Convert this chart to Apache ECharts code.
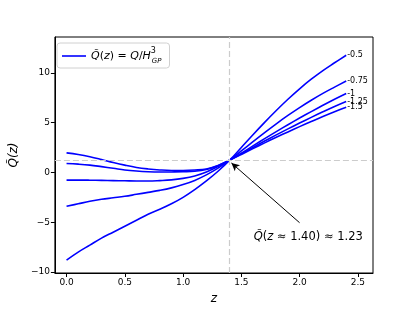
<!DOCTYPE html>
<html>
<head>
<meta charset="utf-8">
<script src="https://cdn.jsdelivr.net/npm/echarts@6/dist/echarts.min.js"></script>
<style>html,body{margin:0;padding:0;background:#fff}#c{width:415px;height:310px}</style>
</head>
<body>
<div id="c"></div>
<script>
// ---- data ----
const zValues = [0,0.1,0.2,0.3,0.4,0.5,0.6,0.7,0.8,0.9,1.0,1.1,1.2,1.3,1.4,1.5,1.6,1.7,1.8,1.9,2.0,2.1,2.2,2.3,2.4];
const seriesLabels = ['-0.5','-0.75','-1','-1.25','-1.5'];
const q_m050 = [-8.8,-8.0,-7.3,-6.6,-6.0,-5.4,-4.8,-4.2,-3.7,-3.15,-2.5,-1.72,-0.85,0.12,1.23,2.51,3.79,5.03,6.22,7.35,8.4,9.36,10.23,11.01,11.77];
const q_m075 = [-3.4,-3.15,-2.9,-2.7,-2.55,-2.4,-2.2,-2.0,-1.8,-1.55,-1.22,-0.8,-0.25,0.43,1.23,2.16,3.09,4.0,4.88,5.72,6.51,7.25,7.94,8.57,9.18];
const q_m100 = [-0.77,-0.77,-0.78,-0.8,-0.82,-0.84,-0.86,-0.86,-0.82,-0.75,-0.6,-0.35,0.05,0.6,1.23,1.93,2.66,3.39,4.1,4.79,5.46,6.11,6.74,7.35,7.93];
const q_m125 = [0.9,0.83,0.73,0.58,0.42,0.25,0.14,0.07,0.04,0.05,0.07,0.12,0.3,0.67,1.23,1.86,2.51,3.15,3.77,4.37,4.96,5.53,6.09,6.63,7.13];
const q_m150 = [1.96,1.8,1.58,1.3,1.0,0.73,0.5,0.35,0.25,0.2,0.2,0.24,0.35,0.7,1.23,1.8,2.39,2.97,3.53,4.07,4.6,5.11,5.62,6.1,6.54];
const allQ = [q_m050,q_m075,q_m100,q_m125,q_m150];
const xTicks = [0,0.5,1.0,1.5,2.0,2.5];
const yTicks = [-10,-5,0,5,10];
const refZ = 1.4, refQ = 1.23;
const arrowFrom = [2.0,-5.05], arrowTo = [1.415,0.95];
const annotPos = [2.074,-6.5];

const FONT = 'DejaVu Sans';
const chart = echarts.init(document.getElementById('c'), null, {renderer:'canvas'});

const lineSeries = allQ.map((arr,k)=>({
  type:'line', name:'Q', data: zValues.map((z,i)=>[z,arr[i]]),
  symbol:'none', smooth:0.4, z:3,
  lineStyle:{color:'#0000ff', width:1.6},
  itemStyle:{color:'#0000ff'},
  endLabel:{show:true, formatter:()=>seriesLabels[k], fontSize:8, color:'#000', fontFamily:FONT, distance:1}
}));

const refSeries = {
  type:'line', name:'ref', data:[], silent:true, z:2,
  markLine:{
    silent:true, symbol:'none', animation:false,
    label:{show:false},
    lineStyle:{color:'#cccccc', type:[6,3], width:1.2},
    data:[{xAxis:refZ},{yAxis:refQ}]
  }
};
const annotSeries = {
  type:'line', name:'annot', data:[], silent:true, z:5,
  markLine:{
    silent:true, animation:false, symbol:['none','arrow'], symbolSize:[6,8],
    label:{show:false},
    lineStyle:{color:'#000', type:'solid', width:1},
    data:[[{coord:arrowFrom},{coord:arrowTo}]]
  },
  markPoint:{
    silent:true, animation:false, symbol:'circle', symbolSize:1,
    itemStyle:{color:'rgba(0,0,0,0)'},
    label:{show:true, position:'inside', color:'#000', fontFamily:FONT, fontSize:11.5,
      formatter:'{i|Q\u0303}{n|(}{i|z}{n| \u2248 1.40) \u2248 1.23}',
      rich:{i:{fontStyle:'italic', fontFamily:FONT, fontSize:11.5, color:'#000'}, n:{fontFamily:FONT, fontSize:11.5, color:'#000'}}},
    data:[{coord:annotPos}]
  }
};

chart.setOption({
  animation:false,
  grid:{left:52, right:42, top:37, bottom:35, show:true, borderColor:'#000', borderWidth:1, backgroundColor:'transparent'},
  legend:{
    show:true, data:[{name:'Q', icon:'rect', itemStyle:{color:'#0000ff'}}], left:57, top:43, orient:'horizontal',
    padding:[4,8,3,5], borderColor:'#d0d0d0', borderWidth:1, borderRadius:3, backgroundColor:'#fff',
    itemWidth:24, itemHeight:1.6, itemGap:6,
    formatter:()=> '{i|Q\u0303}{n|(}{i|z}{n|) = }{i|Q}{n|/}{i|H}{s|3}{b|GP}',
    textStyle:{fontFamily:FONT, fontSize:11, color:'#000', lineHeight:18,
      rich:{
        i:{fontStyle:'italic', fontFamily:FONT, fontSize:11, color:'#000'},
        n:{fontFamily:FONT, fontSize:11, color:'#000'},
        s:{fontFamily:FONT, fontSize:8, color:'#000', verticalAlign:'top', width:1},
        b:{fontStyle:'italic', fontFamily:FONT, fontSize:7, color:'#000', verticalAlign:'bottom'}
      }}
  },
  xAxis:{
    type:'value', min:-0.1, max:2.63,
    name:'z', nameLocation:'middle', nameGap:20,
    nameTextStyle:{fontFamily:FONT, fontStyle:'italic', fontSize:12, color:'#000'},
    axisLine:{show:true, onZero:false, lineStyle:{color:'#000', width:1}},
    axisTick:{show:true, inside:false, length:4, customValues:xTicks, lineStyle:{color:'#000'}},
    axisLabel:{show:true, customValues:xTicks, formatter:v=>v.toFixed(1), fontFamily:FONT, fontSize:9, color:'#000', margin:5},
    splitLine:{show:false}
  },
  yAxis:{
    type:'value', min:-10.1, max:13.6,
    name:'Q\u0303(z)', nameLocation:'middle', nameGap:24, nameRotate:90,
    nameTextStyle:{fontFamily:FONT, fontStyle:'italic', fontSize:12, color:'#000'},
    axisLine:{show:true, onZero:false, lineStyle:{color:'#000', width:1}},
    axisTick:{show:true, inside:false, length:4, customValues:yTicks, lineStyle:{color:'#000'}},
    axisLabel:{show:true, customValues:yTicks, formatter:v=>String(v).replace('-','\u2212'), fontFamily:FONT, fontSize:9, color:'#000', margin:5},
    splitLine:{show:false}
  },
  series:[refSeries, ...lineSeries, annotSeries]
});
</script>
</body>
</html>
